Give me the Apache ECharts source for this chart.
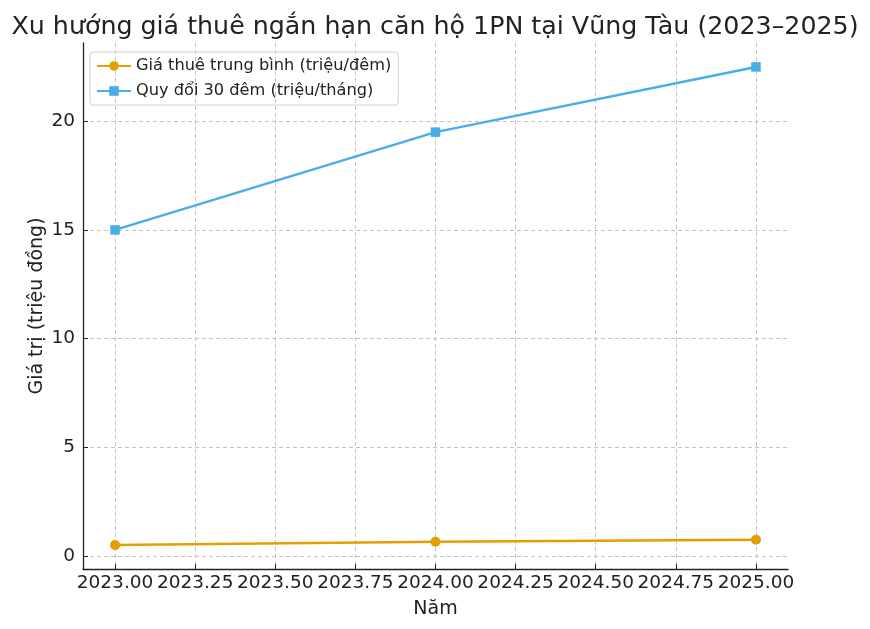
<!DOCTYPE html>
<html><head><meta charset="utf-8">
<script src="https://cdn.jsdelivr.net/npm/echarts@6/dist/echarts.min.js"></script>
<style>html,body{margin:0;padding:0;background:#fff}#c{width:870px;height:629px}</style>
</head><body><div id="c"></div>
<script>
const years = [2023, 2024, 2025];
const nightly = [0.5, 0.65, 0.75];
const monthly = [15, 19.5, 22.5];
const xTicks = [2023, 2023.25, 2023.5, 2023.75, 2024, 2024.25, 2024.5, 2024.75, 2025];
const yTicks = [0, 5, 10, 15, 20];
const seriesNames = ['Giá thuê trung bình (triệu/đêm)', 'Quy đổi 30 đêm (triệu/tháng)'];

const F = 'DejaVu Sans';
const chart = echarts.init(document.getElementById('c'), null, {renderer: 'canvas'});
chart.setOption({
  animation: false,
  textStyle: {fontFamily: F},
  title: {text: 'Xu hướng giá thuê ngắn hạn căn hộ 1PN tại Vũng Tàu (2023–2025)', left: 'center', top: 10,
    textStyle: {fontFamily: F, fontSize: 25.3, fontWeight: 'normal', color: '#222'}},
  legend: {left: 90, top: 52, orient: 'vertical', itemGap: 9, itemWidth: 34, itemHeight: 12,
    padding: [6, 7, 6, 6], borderColor: '#d0d0d0', borderWidth: 1, borderRadius: 3,
    textStyle: {fontFamily: F, fontSize: 16.2, color: '#222'},
    data: seriesNames},
  grid: {left: 83, right: 82, top: 43, bottom: 60},
  xAxis: {type: 'value', min: 2022.9, max: 2025.1, name: 'Năm', nameLocation: 'middle', nameGap: 31,
    nameMoveOverlap: false,
    nameTextStyle: {fontFamily: F, fontSize: 19, color: '#222'},
    axisLine: {show: true, onZero: false, lineStyle: {color: '#222', width: 1.3}},
    axisTick: {show: true, inside: true, length: 5, customValues: xTicks, lineStyle: {color: '#222'}},
    axisLabel: {customValues: xTicks, formatter: v => v.toFixed(2), fontFamily: F, fontSize: 18.5, color: '#222', margin: 5},
    splitLine: {show: true, lineStyle: {type: [4, 3], color: '#c4c4c4'}}},
  yAxis: {type: 'value', min: -0.6, max: 23.6, name: 'Giá trị (triệu đồng)', nameLocation: 'middle', nameGap: 36,
    nameMoveOverlap: false,
    nameTextStyle: {fontFamily: F, fontSize: 19, color: '#222'},
    axisLine: {show: true, onZero: false, lineStyle: {color: '#222', width: 1.3}},
    axisTick: {show: true, inside: true, length: 5, customValues: yTicks, lineStyle: {color: '#222'}},
    axisLabel: {customValues: yTicks, fontFamily: F, fontSize: 18.5, color: '#222', margin: 8},
    splitLine: {show: true, lineStyle: {type: [4, 3], color: '#c4c4c4'}}},
  series: [
    {name: seriesNames[0], type: 'line', data: years.map((y, i) => [y, nightly[i]]),
      symbol: 'circle', symbolSize: 10, color: '#E69F00', lineStyle: {width: 2.5}, itemStyle: {color: '#E69F00'}},
    {name: seriesNames[1], type: 'line', data: years.map((y, i) => [y, monthly[i]]),
      symbol: 'rect', symbolSize: 9.5, color: '#48AEE8', lineStyle: {width: 2.5}, itemStyle: {color: '#48AEE8'}}
  ]
});
</script></body></html>
